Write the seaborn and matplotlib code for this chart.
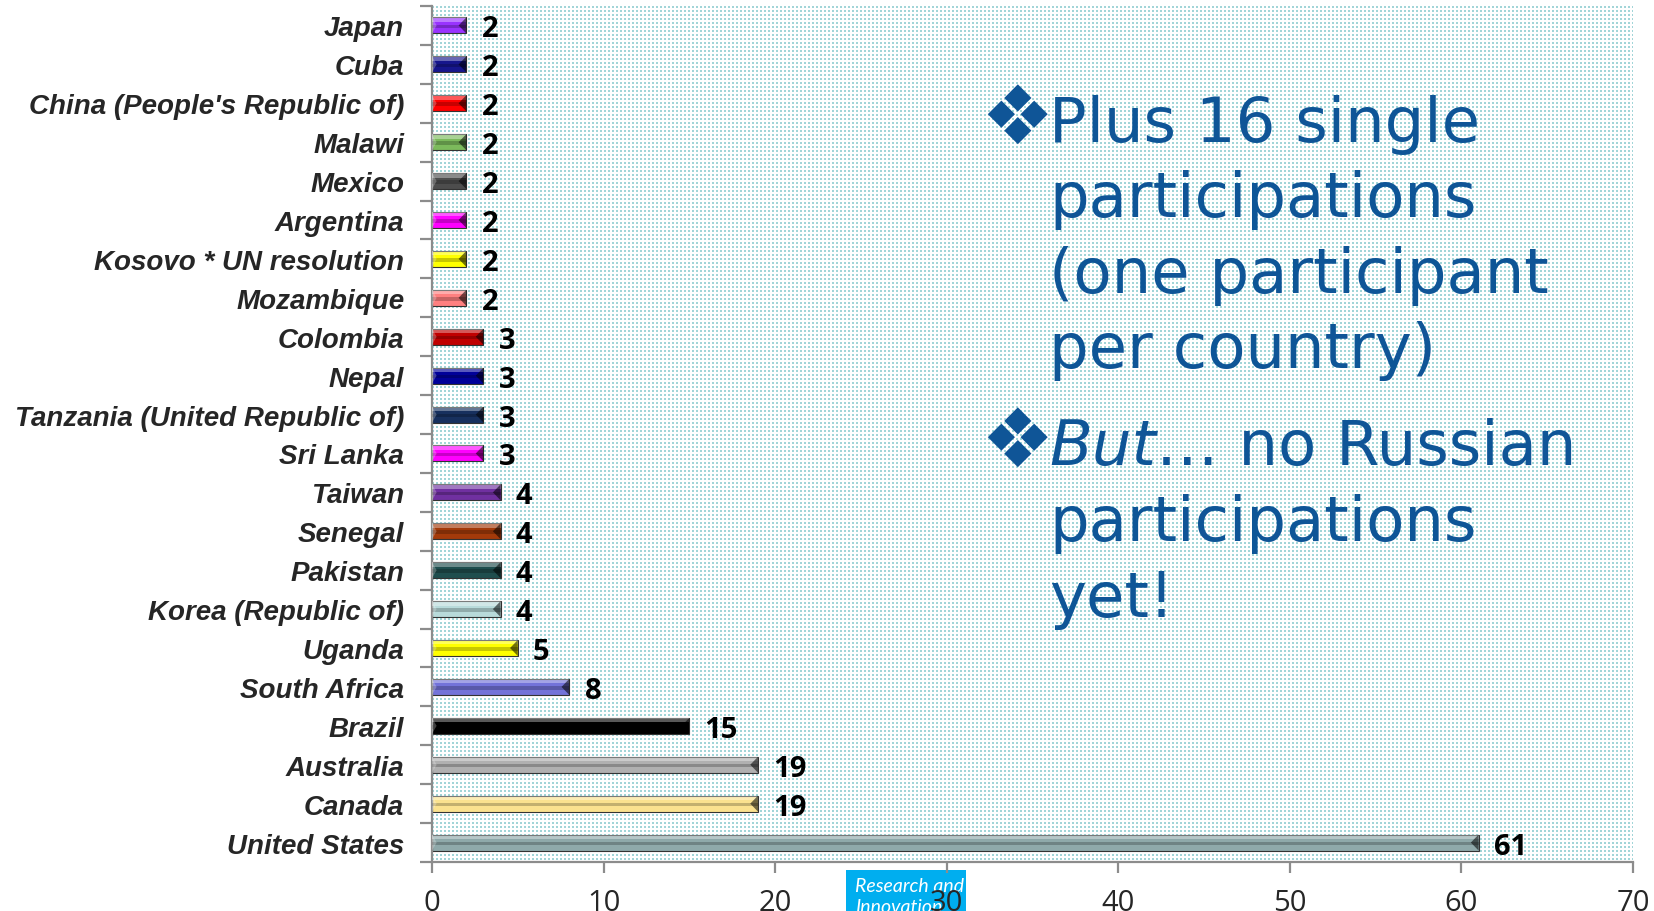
import numpy as np
import pandas as pd
import matplotlib
matplotlib.use("Agg")
import matplotlib.pyplot as plt
import matplotlib.colors as mcolors
from matplotlib.patches import Rectangle, Polygon
import seaborn as sns

# ---------------- data ----------------
countries = ["Japan", "Cuba", "China (People's Republic of)", "Malawi", "Mexico",
             "Argentina", "Kosovo * UN resolution", "Mozambique", "Colombia", "Nepal",
             "Tanzania (United Republic of)", "Sri Lanka", "Taiwan", "Senegal", "Pakistan",
             "Korea (Republic of)", "Uganda", "South Africa", "Brazil", "Australia",
             "Canada", "United States"]
participations = [2, 2, 2, 2, 2, 2, 2, 2, 3, 3, 3, 3, 4, 4, 4, 4, 5, 8, 15, 19, 19, 61]
bar_colors = ["#9933ff", "#16168c", "#ff0000", "#7cba5c", "#4d4d4d", "#ff00ff", "#ffff00",
              "#ff8080", "#c00000", "#000099", "#17305e", "#ff00ff", "#7030a0", "#a33a0a",
              "#1f4e4e", "#b8dada", "#ffff00", "#7373d9", "#000000", "#b0b0b0", "#fbe28f",
              "#8fa9aa"]
x_ticks = [0, 10, 20, 30, 40, 50, 60, 70]
note_block_1 = ["Plus 16 single", "participations", "(one participant", "per country)"]
note_italic = "But"
note_rest = "\u2026 no Russian"
note_block_2 = ["participations", "yet!"]
logo_lines = ["Research and", "Innovation"]

# ---------------- figure ----------------
W, H, DPI = 1654, 912, 100
sns.set_theme(style="white")
plt.rcParams['font.family'] = ['DejaVu Sans']

fig = plt.figure(figsize=(W / DPI, H / DPI), dpi=DPI)
fig.patch.set_facecolor("white")

left_px, right_px, top_px, bottom_px = 432, 1633, 7, 863
ax = fig.add_axes([left_px / W, 1 - bottom_px / H,
                   (right_px - left_px) / W, (bottom_px - top_px) / H])
ax.set_facecolor("none")

# dotted background texture (plot area)
ph, pw = bottom_px - top_px, right_px - left_px
pat = np.ones((ph, pw, 3))
rr, cc = np.mgrid[0:ph, 0:pw]
mask = (rr % 4 < 2) & (cc % 4 < 2)
pat[mask] = mcolors.to_rgb("#a2d5d8")
fig.figimage(pat, xo=left_px, yo=H - bottom_px, zorder=-2)

df = pd.DataFrame({"country": countries, "participations": participations})
palette = dict(zip(countries, bar_colors))
sns.barplot(data=df, y="country", x="participations", hue="country", palette=palette,
            order=countries, hue_order=countries, orient="h", width=0.41,
            legend=False, ax=ax, saturation=1, linewidth=0.8, edgecolor="#333333")

n = len(countries)
ax.set_xlim(0, 70)
ax.set_ylim(n - 0.5, -0.5)

# bevel decoration derived from the drawn bars
for p in list(ax.patches):
    x0, y0, w, h = p.get_x(), p.get_y(), p.get_width(), p.get_height()
    ax.add_patch(Rectangle((x0, y0), w, h * 0.28, facecolor="white", alpha=0.35,
                           linewidth=0, zorder=3))
    ax.add_patch(Rectangle((x0, y0 + h * 0.45), w, h * 0.22, facecolor="black", alpha=0.22,
                           linewidth=0, zorder=3))
    cap = 0.45
    ax.add_patch(Polygon([(x0 + w, y0), (x0 + w, y0 + h), (x0 + w - cap, y0 + h / 2)],
                         closed=True, facecolor="black", alpha=0.55, linewidth=0, zorder=3))
    ax.add_patch(Polygon([(x0, y0), (x0, y0 + h), (x0 + cap * 0.6, y0 + h / 2)],
                         closed=True, facecolor="white", alpha=0.25, linewidth=0, zorder=3))

# value labels
for cont in ax.containers:
    labels = ax.bar_label(cont, padding=11, fontsize=21, fontweight="bold",
                          family="Open Sans", color="black")
    for t in labels:
        t.set_va("center_baseline")

# axes styling
for s in ["top", "right"]:
    ax.spines[s].set_visible(False)
for s in ["left", "bottom"]:
    ax.spines[s].set_color("#8c8c8c")
    ax.spines[s].set_linewidth(1.6)

ax.set_xticks(x_ticks)
ax.set_xticklabels([str(t) for t in x_ticks], fontsize=21, family="Open Sans")
ax.tick_params(axis="x", direction="out", length=8, width=1.6, color="#8c8c8c", pad=11,
               bottom=True)
ax.set_yticks(range(n))
ax.set_yticklabels(countries, fontsize=20, family="Liberation Sans", fontweight="bold",
                   fontstyle="italic")
ax.tick_params(axis="y", which="major", length=0, pad=20, left=True)
ax.set_yticks(np.arange(-0.5, n, 1), minor=True)
ax.tick_params(axis="y", which="minor", direction="out", length=9, width=1.6,
               color="#8c8c8c", left=True)
ax.set_xlabel("")
ax.set_ylabel("")
ax.grid(False)


def fxy(x, y):
    return x / W, 1 - y / H


blue = "#0f5597"
txt_x = 1049
fs = 45
# bullets
for by in [142, 465]:
    fig.text(*fxy(980, by + 2), "\u2756", fontsize=59, family="DejaVu Sans", color=blue,
             ha="left", va="baseline")
# first block
for i, line in enumerate(note_block_1):
    fig.text(*fxy(txt_x, 142 + i * 75.5), line, fontsize=fs, family="DejaVu Sans",
             color=blue, ha="left", va="baseline")
# second block
t_but = fig.text(*fxy(txt_x, 465), note_italic, fontsize=fs, family="DejaVu Sans",
                 fontstyle="italic", color=blue, ha="left", va="baseline")
ax.annotate(note_rest, xy=(1, 0), xycoords=t_but, ha="left", va="bottom",
            fontsize=fs, family="DejaVu Sans", color=blue, annotation_clip=False)
for i, line in enumerate(note_block_2):
    fig.text(*fxy(txt_x, 465 + (i + 1) * 76), line, fontsize=fs, family="DejaVu Sans",
             color=blue, ha="left", va="baseline")

# logo box behind the x tick labels
fig.patches.append(Rectangle(fxy(846, 912), (966 - 846) / W, (912 - 871) / H,
                             transform=fig.transFigure, facecolor="#00aeef",
                             edgecolor="none", zorder=-1))
fig.text(*fxy(855, 892), logo_lines[0], fontsize=14, family="Lato", fontstyle="italic",
         color="white", ha="left", va="baseline", zorder=-1)
fig.text(*fxy(855, 913), logo_lines[1], fontsize=14, family="Lato", fontstyle="italic",
         color="white", ha="left", va="baseline", zorder=-1)

fig.savefig("out.png", dpi=DPI)
